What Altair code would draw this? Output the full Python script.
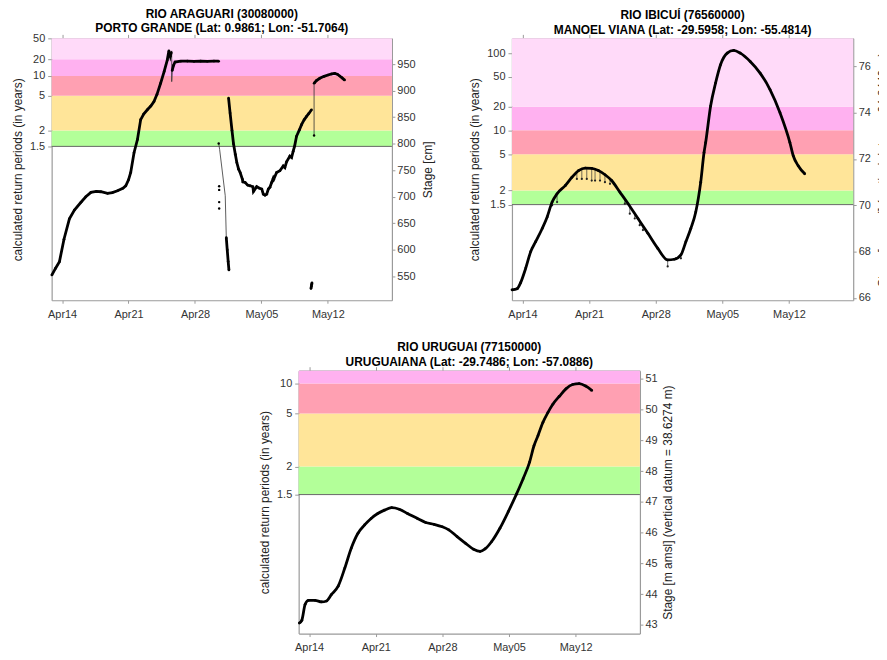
import altair as alt
import pandas as pd

FONT = "Liberation Sans"

# ---------------- shared axis data ----------------
X_DOMAIN = [-1.1, 34.75]                      # days since Apr 14
XTICK_DAYS = [0, 7, 14, 21, 28]
XTICK_LABELS = ["Apr14", "Apr21", "Apr28", "May05", "May12"]
BAND_COLORS = ["#B3FF99", "#FFE599", "#FFA0B2", "#FFB1F0", "#FFDAF9"]
RP_TITLE = "calculated return periods (in years)"

# ---------------- panel 1: RIO ARAGUARI ----------------
P1_TITLE = ["RIO ARAGUARI (30080000)", "PORTO GRANDE (Lat: 0.9861; Lon: -51.7064)"]
P1_RP_LABELS = ["1.5", "2", "5", "10", "20", "50"]
P1_RP_STAGE = [795.0, 824.9, 890.3, 927.7, 959.4, 998.6]
P1_BAND_EDGES = [795.0, 824.9, 890.3, 927.7, 959.4, 998.6]
P1_Y_DOMAIN = [505.0, 998.6]
P1_STAGE_TICKS = [550, 600, 650, 700, 750, 800, 850, 900, 950]
P1_STAGE_TITLE = "Stage [cm]"

P1_A_DAY = [-1.08, -0.7, -0.28, 0.2, 0.77, 1.3, 1.99, 2.5, 3.04, 3.6, 4.09, 4.79, 5.3, 5.84, 6.4,
            6.71, 7.0, 7.23, 7.58, 7.94, 8.28, 8.6, 8.98, 9.35, 9.68, 10.0, 10.38, 10.75, 11.08,
            11.25, 11.4, 11.5]
P1_A_STAGE = [552.5, 565, 577.6, 620, 658.5, 675, 689.7, 700, 708.4, 710, 709.5, 706.5, 708, 711.4,
              716, 720.7, 732, 745.8, 783, 808, 845.4, 856, 864, 871, 879.6, 893, 914, 936, 957.6,
              975, 965, 972]
P1_B_DAY = [11.6, 11.75, 11.9, 12.5, 13.2, 13.9, 14.6, 15.3, 16.0, 16.5]
P1_B_STAGE = [938, 948, 954, 955.5, 955.8, 955.3, 955.8, 955.4, 955.7, 955.5]
P1_C_DAY = [17.3, 17.4, 17.5, 17.58]
P1_C_STAGE = [623, 600, 578, 562]
P1_D_DAY = [17.54, 17.7, 17.9, 18.06, 18.25, 18.41, 18.6, 18.76, 19.0, 19.05, 19.29, 19.55, 19.81,
            20.1, 20.16, 20.5, 20.8, 21.04, 21.2, 21.38, 21.56, 21.73, 21.9, 22.08, 22.25, 22.3,
            22.6, 22.95, 23.3, 23.47, 23.65, 24.0, 24.18, 24.35, 24.5, 24.7, 25.0, 25.23, 25.5,
            25.76, 26.0, 26.28]
P1_D_STAGE = [886, 858, 825, 800, 780, 764.5, 752, 745.8, 733, 728, 727, 722, 720.7, 719, 710, 719,
              716, 714.6, 705, 703, 705, 714.6, 718, 727, 735, 733, 745.8, 749, 758, 755, 766,
              776.8, 774, 786, 795.5, 814, 826, 836, 845, 851.6, 857, 864]
P1_E_DAY = [26.55, 26.8, 27.15, 27.6, 28.02, 28.4, 28.72, 29.0, 29.25, 29.5, 29.77]
P1_E_STAGE = [914, 919, 923.4, 927, 929.5, 931.5, 932.7, 931, 927.7, 924, 920]
P1_F_DAY = [26.22, 26.26, 26.3, 26.33]
P1_F_STAGE = [527, 531, 535, 538]
P1_THIN1_DAY = [11.5, 11.55, 11.55, 11.6]
P1_THIN1_STAGE = [972, 975, 917, 938]
P1_THIN2_DAY = [16.5, 16.6, 17.19, 17.3]
P1_THIN2_STAGE = [800.6, 789, 702, 623]
P1_THIN3_DAY = [26.55, 26.55]
P1_THIN3_STAGE = [815.5, 914]
P1_PT_DAY = [16.55, 16.55, 16.55, 16.55, 16.5, 26.55]
P1_PT_STAGE = [720, 713, 690, 678, 800.6, 815.5]

# ---------------- panel 2: RIO IBICUÍ ----------------
P2_TITLE = ["RIO IBICUÍ (76560000)", "MANOEL VIANA (Lat: -29.5958; Lon: -55.4814)"]
P2_RP_LABELS = ["1.5", "2", "5", "10", "20", "50", "100"]
P2_RP_STAGE = [70.03, 70.64, 72.2, 73.24, 74.26, 75.54, 76.57]
P2_BAND_EDGES = [70.03, 70.64, 72.2, 73.24, 74.26, 77.21]
P2_Y_DOMAIN = [65.9, 77.21]
P2_STAGE_TICKS = [66, 68, 70, 72, 74, 76]
P2_STAGE_TITLE = "Stage [m amsl] (vertical datum = 64.8440 m)"
P2_DAY = [-1.1, -0.55, -0.2, 0.35, 0.87, 1.39, 2.08, 2.6, 3.12, 3.64, 4.52, 5.2, 5.9, 6.6, 7.28,
          7.98, 8.68, 9.37, 10.24, 11.1, 12.14, 13.18, 14.22, 15.26, 15.96, 16.65, 17.17, 17.69,
          18.21, 18.73, 19.08, 19.25, 19.77, 20.29, 20.81, 21.51, 22.2, 22.89, 23.93, 24.97,
          26.01, 27.06, 28.1, 28.45, 28.97, 29.66]
P2_STAGE = [66.35, 66.4, 66.65, 67.29, 68.0, 68.43, 69.0, 69.5, 70.14, 70.5, 70.86, 71.21, 71.5,
            71.61, 71.6, 71.5, 71.32, 71.07, 70.57, 70.07, 69.43, 68.79, 68.14, 67.64, 67.67, 67.86,
            68.43, 69.0, 69.71, 71.0, 72.28, 72.71, 74.29, 75.28, 76.07, 76.57, 76.69, 76.57, 76.21,
            75.71, 75.0, 74.0, 72.71, 72.14, 71.71, 71.36]
P2_OBS_DAY = [3.12, 3.64, 5.72, 6.24, 6.76, 7.28, 7.63, 8.15, 8.67, 9.2, 10.76, 11.28, 11.8, 12.32,
              12.66, 15.26, 16.13, 16.65]
P2_OBS_STAGE = [70.0, 70.14, 71.14, 71.14, 71.14, 71.07, 71.07, 71.07, 71.0, 70.93, 70.07, 69.64,
                69.43, 69.14, 68.93, 67.36, 67.71, 67.71]
P2_OBS_FIT = [70.14, 70.5, 71.45, 71.58, 71.62, 71.6, 71.56, 71.47, 71.32, 71.13, 70.3, 69.95,
              69.64, 69.3, 69.1, 67.64, 67.7, 67.86]

# ---------------- panel 3: RIO URUGUAI ----------------
P3_TITLE = ["RIO URUGUAI (77150000)", "URUGUAIANA (Lat: -29.7486; Lon: -57.0886)"]
P3_RP_LABELS = ["1.5", "2", "5", "10"]
P3_RP_STAGE = [47.235, 48.15, 49.87, 50.84]
P3_BAND_EDGES = [47.235, 48.15, 49.87, 50.84, 51.26]
P3_Y_DOMAIN = [42.72, 51.26]
P3_STAGE_TICKS = [43, 44, 45, 46, 47, 48, 49, 50, 51]
P3_STAGE_TITLE = "Stage [m amsl] (vertical datum = 38.6274 m)"
P3_DAY = [-1.04, -0.77, -0.42, -0.07, 0.62, 1.31, 1.83, 2.35, 3.05, 3.75, 4.43, 5.13, 5.83, 6.51,
          7.21, 7.91, 8.67, 9.47, 10.33, 11.37, 12.24, 13.11, 13.98, 14.67, 15.54, 16.4, 17.27,
          17.96, 18.48, 19.18, 20.04, 20.92, 21.78, 22.48, 23.16, 23.62, 24.04, 24.56, 25.08,
          25.6, 26.29, 26.98, 27.68, 28.37, 29.06, 29.69]
P3_STAGE = [43.06, 43.15, 43.67, 43.8, 43.8, 43.75, 43.78, 43.99, 44.26, 44.85, 45.5, 45.98, 46.25,
            46.46, 46.62, 46.73, 46.81, 46.76, 46.62, 46.46, 46.33, 46.27, 46.19, 46.09, 45.87,
            45.66, 45.46, 45.39, 45.47, 45.71, 46.14, 46.68, 47.25, 47.75, 48.29, 48.82, 49.15,
            49.58, 49.9, 50.17, 50.43, 50.67, 50.81, 50.84, 50.76, 50.62]

AXIS_GREY = "#9a9a9a"


def lookup_expr(values, labels):
    parts = [f"abs(datum.value - ({v})) < 0.001 ? '{l}'" for v, l in zip(values, labels)]
    return " : ".join(parts) + " : ''"


def segs(*pairs):
    rows = []
    for sid, (days, stages) in enumerate(pairs):
        for i, (d, s) in enumerate(zip(days, stages)):
            rows.append({"seg": sid, "i": i, "day": d, "stage": s})
    return pd.DataFrame(rows)


def panel(title, rp_labels, rp_stage, band_edges, y_domain, stage_ticks, stage_title,
          stage_title_pad, thick, width, height, thin=None, pts=None, stems=None,
          interp="linear"):
    xs = alt.Scale(domain=X_DOMAIN, nice=False, zero=False)
    ys = alt.Scale(domain=y_domain, nice=False, zero=False)
    n = len(band_edges) - 1
    band_df = pd.DataFrame({"x0": [X_DOMAIN[0]] * n, "x1": [X_DOMAIN[1]] * n,
                            "lo": band_edges[:-1], "hi": band_edges[1:],
                            "c": BAND_COLORS[:n]})
    bands = alt.Chart(band_df).mark_rect().encode(
        x=alt.X("x0:Q", scale=xs, axis=alt.Axis(
            orient="bottom", values=XTICK_DAYS, labelExpr=lookup_expr(XTICK_DAYS, XTICK_LABELS),
            title=None, tickSize=3, labelPadding=5)),
        x2="x1:Q",
        y=alt.Y("lo:Q", scale=ys, axis=alt.Axis(
            orient="left", values=rp_stage, labelExpr=lookup_expr(rp_stage, rp_labels),
            title=RP_TITLE, tickSize=4, labelPadding=3, titlePadding=5)),
        y2="hi:Q",
        color=alt.Color("c:N", scale=None),
    )
    thr_df = pd.DataFrame({"x0": [X_DOMAIN[0]], "x1": [X_DOMAIN[1]], "s": [band_edges[0]]})
    thr = alt.Chart(thr_df).mark_rule(color="#666666", strokeWidth=1).encode(
        x=alt.X("x0:Q", scale=xs, axis=alt.Axis(
            orient="top", values=XTICK_DAYS, labels=False, title=None, tickSize=4)),
        x2="x1:Q",
        y=alt.Y("s:Q", scale=ys, axis=None),
    )
    layers = [bands, thr]
    if thin is not None:
        layers.append(alt.Chart(thin).mark_line(color="#333333", strokeWidth=0.8).encode(
            x=alt.X("day:Q", scale=xs, axis=None),
            y=alt.Y("stage:Q", scale=ys, axis=None),
            detail="seg:N", order="i:Q"))
    if stems is not None:
        layers.append(alt.Chart(stems).mark_rule(color="#333333", strokeWidth=0.7).encode(
            x=alt.X("day:Q", scale=xs, axis=None),
            y=alt.Y("obs:Q", scale=ys, axis=None),
            y2="fit:Q"))
        layers.append(alt.Chart(stems).mark_point(filled=True, size=5, color="#222222",
                                                  opacity=1).encode(
            x=alt.X("day:Q", scale=xs, axis=None),
            y=alt.Y("obs:Q", scale=ys, axis=None)))
    line = alt.Chart(thick).mark_line(
        color="black", strokeWidth=2.8, interpolate=interp,
        point=alt.OverlayMarkDef(filled=True, size=7, color="black", opacity=1)).encode(
        x=alt.X("day:Q", scale=xs, axis=None),
        y=alt.Y("stage:Q", scale=ys, axis=alt.Axis(
            orient="right", values=stage_ticks, title=stage_title, format="d",
            tickSize=3, labelPadding=2, titlePadding=stage_title_pad, titleAngle=270,
            titleBaseline="top")),
        detail="seg:N", order="i:Q")
    layers.append(line)
    if pts is not None:
        layers.append(alt.Chart(pts).mark_point(filled=True, size=6, color="black",
                                                opacity=1).encode(
            x=alt.X("day:Q", scale=xs, axis=None),
            y=alt.Y("stage:Q", scale=ys, axis=None)))
    return alt.layer(*layers).resolve_scale(x="independent", y="independent").properties(
        width=width, height=height,
        title=alt.TitleParams(text=title, fontSize=12, fontWeight="bold", font=FONT,
                              lineHeight=15, offset=-3, frame="group",
                              anchor="middle", color="black"))


p1 = panel(P1_TITLE, P1_RP_LABELS, P1_RP_STAGE, P1_BAND_EDGES, P1_Y_DOMAIN,
           P1_STAGE_TICKS, P1_STAGE_TITLE, 8,
           segs((P1_A_DAY, P1_A_STAGE), (P1_B_DAY, P1_B_STAGE), (P1_C_DAY, P1_C_STAGE),
                (P1_D_DAY, P1_D_STAGE), (P1_E_DAY, P1_E_STAGE), (P1_F_DAY, P1_F_STAGE)),
           343, 264,
           thin=segs((P1_THIN1_DAY, P1_THIN1_STAGE), (P1_THIN2_DAY, P1_THIN2_STAGE),
                     (P1_THIN3_DAY, P1_THIN3_STAGE)),
           pts=pd.DataFrame({"day": P1_PT_DAY, "stage": P1_PT_STAGE}))

p2 = panel(P2_TITLE, P2_RP_LABELS, P2_RP_STAGE, P2_BAND_EDGES, P2_Y_DOMAIN,
           P2_STAGE_TICKS, P2_STAGE_TITLE, 7, segs((P2_DAY, P2_STAGE)), 344, 264,
           stems=pd.DataFrame({"day": P2_OBS_DAY, "obs": P2_OBS_STAGE, "fit": P2_OBS_FIT}),
           interp="monotone")

p3 = panel(P3_TITLE, P3_RP_LABELS, P3_RP_STAGE, P3_BAND_EDGES, P3_Y_DOMAIN,
           P3_STAGE_TICKS, P3_STAGE_TITLE, 6, segs((P3_DAY, P3_STAGE)), 344, 265,
           interp="monotone")

spacer = alt.Chart(pd.DataFrame({"a": [0]})).mark_point(opacity=0).encode(
    x=alt.X("a:Q", axis=None), y=alt.Y("a:Q", axis=None)).properties(width=208, height=10)

top_row = alt.hconcat(p1, p2, spacing=34)
bottom_row = alt.hconcat(spacer, p3, spacing=0)

chart = alt.vconcat(top_row, bottom_row, spacing=22).properties(
    padding={"left": 3, "top": -3, "right": -10, "bottom": 0}
).configure_view(stroke=None).configure_axis(
    labelFont=FONT, titleFont=FONT, labelFontSize=11, titleFontSize=12,
    labelColor="#333333", titleColor="#222222", titleFontWeight="normal",
    domainColor=AXIS_GREY, tickColor=AXIS_GREY, domainWidth=1.2, tickWidth=1, grid=False
)

chart.save("out.html", embed_options={"renderer": "svg", "actions": False})
